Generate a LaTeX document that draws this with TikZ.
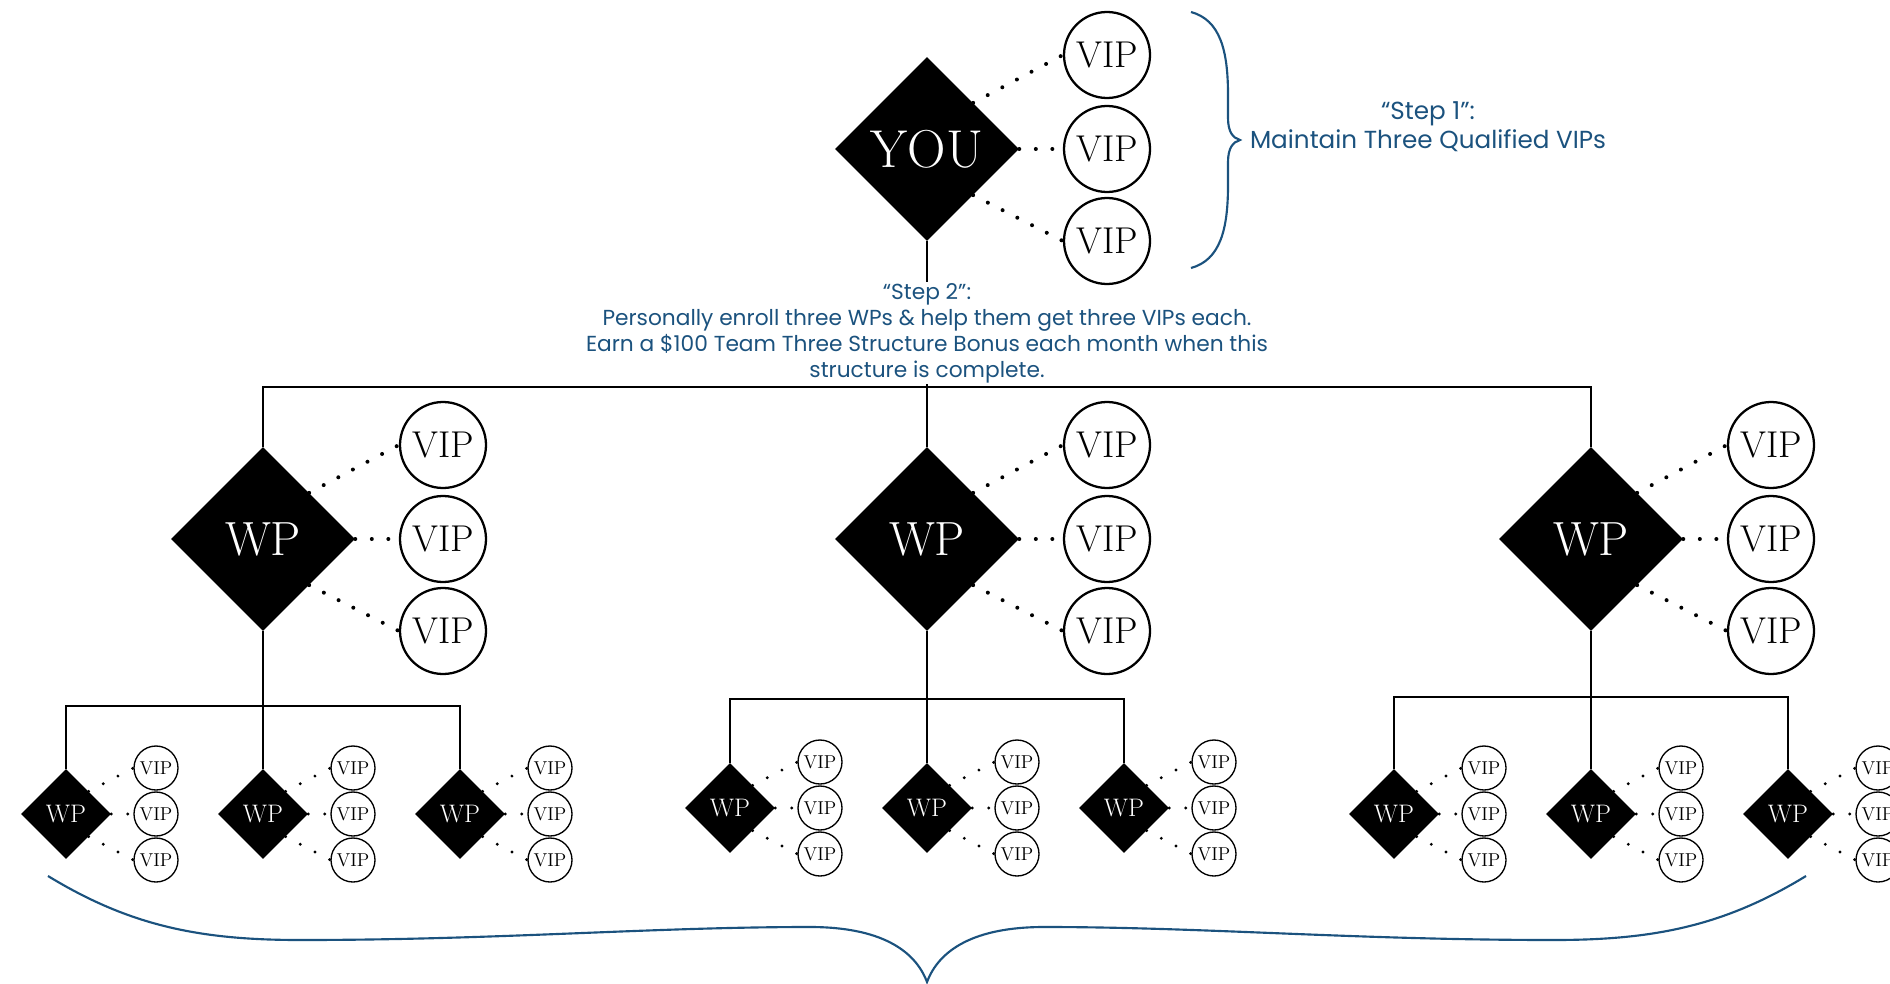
\documentclass[tikz,border=0pt]{standalone}
\usepackage{fontspec}
\usepackage{xcolor}
\usepackage{tikz}
\usetikzlibrary{shapes.geometric,positioning}

\newfontfamily\stepfont{Poppins}
\definecolor{stepblue}{RGB}{27,82,126}

\tikzset{
  bigwp/.style={diamond, fill=black, text=white, inner sep=0pt,
    minimum width=138pt, minimum height=138pt, font=\fontsize{36}{36}\selectfont},
  smallwp/.style={diamond, fill=black, text=white, inner sep=0pt,
    minimum width=67.5pt, minimum height=67.5pt, font=\fontsize{19}{19}\selectfont},
  bigvip/.style={circle, draw, fill=white, line width=1.7pt, inner sep=0pt,
    minimum size=64.5pt, font=\fontsize{28}{28}\selectfont},
  smallvip/.style={circle, draw, fill=white, line width=1pt, inner sep=0pt,
    minimum size=33pt, font=\fontsize{14}{14}\selectfont},
  bigdots/.style={line width=3pt, line cap=round, dash pattern=on 0pt off 12.4pt},
  smalldots/.style={line width=2.4pt, line cap=round, dash pattern=on 0pt off 12.4pt},
  tree/.style={line width=2pt},
  bluebrace/.style={stepblue, line width=1.6pt},
  steptext/.style={text=stepblue, align=center, inner sep=1pt,
    font=\stepfont\fontsize{16.3}{19.5}\selectfont}
}

\begin{document}
\begin{tikzpicture}[x=0.75pt, y=-0.75pt]
    \useasboundingbox (0,0) rectangle (1890,984);

    % You and three VIPs
    \node[bigwp, font=\fontsize{40}{40}\selectfont] (you) at (927,149) {YOU};
    \foreach \i/\dy in {1/-94,2/0,3/92} {
        \node[bigvip] (you-vip\i) at (1107,149+\dy) {VIP};
    }
    \draw[bigdots] (you.north east) -- (you-vip1.west);
    \draw[bigdots] (you.east) -- (you-vip2.west);
    \draw[bigdots] (you.south east) -- (you-vip3.west);

    % Step 1 brace
    \draw[bluebrace] (1191,12) .. controls (1220,20) and (1228,50) .. (1228,95)
        -- (1228,118) .. controls (1228,132) and (1233,138) .. (1240,140)
        .. controls (1233,142) and (1228,148) .. (1228,162)
        -- (1228,185) .. controls (1228,230) and (1220,260) .. (1191,268);
    \node[steptext, font=\stepfont\fontsize{18.5}{21.75}\selectfont] (step1) at (1428,127)
        {“Step 1”:\\Maintain Three Qualified VIPs};

    % Step 2 text between you and the bar
    \node[steptext] (step2) at (927,333)
        {“Step 2”:\\Personally enroll three WPs \& help them get three VIPs each.\\
         Earn a \$100 Team Three Structure Bonus each month when this\\
         structure is complete.};
    \coordinate (bar) at (927,387);
    \draw[tree] (you.south) -- (step2.north);
    \draw[tree] (step2.south) -- (bar);

    % Three WPs with their VIPs and WPs
    \foreach \g/\gx/\gy/\by in {a/263/814/706, b/927/808/699, c/1591/814/697} {
        \node[bigwp] (wp-\g) at (\gx,539) {WP};
        \draw[tree] (wp-\g.north) |- (bar);
        \foreach \i/\dy in {1/-94,2/0,3/92} {
            \node[bigvip] (vip-\g\i) at (\gx+180,539+\dy) {VIP};
        }
        \draw[bigdots] (wp-\g.north east) -- (vip-\g1.west);
        \draw[bigdots] (wp-\g.east) -- (vip-\g2.west);
        \draw[bigdots] (wp-\g.south east) -- (vip-\g3.west);

        % second row
        \coordinate (bar-\g) at (\gx,\by);
        \draw[tree] (wp-\g.south) -- (bar-\g);
        \foreach \j/\dx in {1/-197,2/0,3/197} {
            \node[smallwp] (wp-\g-\j) at (\gx+\dx,\gy) {WP};
            \draw[tree, line width=1.7pt] (wp-\g-\j.north) |- (bar-\g);
            \foreach \k/\dy in {1/-46,2/0,3/46} {
                \node[smallvip] (vip-\g-\j-\k) at (\gx+\dx+90,\gy+\dy) {VIP};
            }
            \draw[smalldots] (wp-\g-\j.north east) -- (vip-\g-\j-1.west);
            \draw[smalldots] (wp-\g-\j.east) -- (vip-\g-\j-2.west);
            \draw[smalldots] (wp-\g-\j.south east) -- (vip-\g-\j-3.west);
        }
    }

    % Bottom brace
    \draw[bluebrace] (48,876) .. controls (130,926) and (200,940) .. (300,940)
        .. controls (500,940) and (650,927) .. (810,927)
        .. controls (880,927) and (915,950) .. (927,982)
        .. controls (939,950) and (974,927) .. (1044,927)
        .. controls (1204,927) and (1354,940) .. (1554,940)
        .. controls (1654,940) and (1724,926) .. (1806,876);
\end{tikzpicture}
\end{document}
